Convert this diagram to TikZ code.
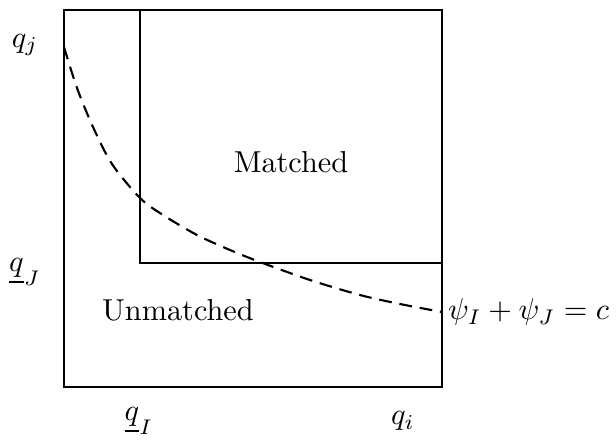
\documentclass[tikz,border=0pt]{standalone}
\begin{document}
\begin{tikzpicture}[x=0.33pt,y=-0.33pt,
  frame/.style={line width=0.9pt},
  inner/.style={line width=0.7pt},
  curve/.style={line width=0.7pt,dash pattern=on 4.2pt off 2.6pt},
  lbl/.style={inner sep=0pt}]
\useasboundingbox (0,0) rectangle (616,440);
\coordinate (BL) at (64,387);
\coordinate (TR) at (442,10);
\coordinate (IT) at (140,10);
\coordinate (IC) at (140,263);
\coordinate (IR) at (442,263);
\coordinate (CS) at (64,47);
\coordinate (CE) at (442,312);
\draw[frame] (BL) rectangle (TR);
\draw[inner] (IT) -- (IC) -- (IR);
\draw[curve] plot[smooth,tension=0.5] coordinates {(CS) (77,88) (93,127) (112,164) (140,198) (163,215) (197,235) (230,250) (260,262) (310,280) (360,295) (400,304) (CE)};
\node[lbl] (matched) at (291,162) {Matched};
\node[lbl] (unmatched) at (178,310) {Unmatched};
\node[lbl,anchor=west] (psi) at ([xshift=1.8pt]CE) {$\psi_I+\psi_J=c$};
\node[lbl] (qj) at (25,45) {$q_j$};
\node[lbl] (qJ) at (25,272) {$\underline{q}_J$};
\node[lbl] (qI) at (139,421) {$\underline{q}_I$};
\node[lbl] (qi) at (403,421) {$q_i$};
\end{tikzpicture}
\end{document}
